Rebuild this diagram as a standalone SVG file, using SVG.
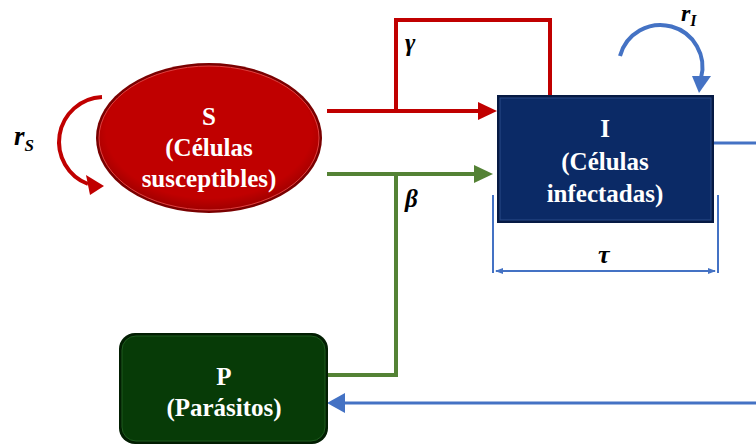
<svg xmlns="http://www.w3.org/2000/svg" width="756" height="444" viewBox="0 0 756 444">
<defs>
<style>
.t{font-family:"Liberation Serif","Times New Roman",serif;font-weight:bold;font-size:25px;fill:#fff;text-anchor:middle}
.m{font-family:"Liberation Serif","Times New Roman",serif;font-weight:bold;font-style:italic;fill:#000}
.red{stroke:#C00000;stroke-width:4;fill:none}
.grn{stroke:#548235;stroke-width:4;fill:none}
.blu{stroke:#4472C4;stroke-width:3;fill:none}
</style>
<marker id="abs" markerWidth="8" markerHeight="8" refX="7" refY="4" orient="auto-start-reverse" markerUnits="userSpaceOnUse" viewBox="0 0 8 8"><path d="M0,1 L8,4 L0,7 z" fill="#4472C4"/></marker>
<radialGradient id="gS" cx="0.5" cy="0.45" r="0.55"><stop offset="0.85" stop-color="#C00000"/><stop offset="1" stop-color="#A00000"/></radialGradient>
</defs>

<g id="connectors">
<path class="red" d="M327,111 H484"/>
<path d="M478,102 L497,111 L478,120 z" fill="#C00000"/>
<path class="red" d="M396,111 V20 H550 V97"/>
<path class="grn" d="M327,174 H480"/>
<path d="M474,165 L493,174 L474,183 z" fill="#548235"/>
<path class="grn" d="M396,174 V375 H327"/>
<path class="blu" d="M713,143 H756"/>
<path class="blu" d="M756,403 H345"/>
<path d="M345,393 L327,403 L345,413 z" fill="#4472C4"/>
<path class="blu" style="stroke-width:2" d="M493,195 V273 M718,195 V273"/>
<path class="blu" style="stroke-width:2" d="M496,271 H715" marker-start="url(#abs)" marker-end="url(#abs)"/>
<path d="M102,97 A45,45 0 0 0 88,184" stroke="#C00000" stroke-width="4" fill="none"/>
<path d="M86,175 L104,186 L90,195 z" fill="#C00000"/>
<path d="M620,56 A40,40 0 0 1 701,78" stroke="#4472C4" stroke-width="4" fill="none"/>
<path d="M692,76 L711,76 L699,93 z" fill="#4472C4"/>
</g>

<g id="S">
<ellipse cx="209" cy="138" rx="113" ry="75" fill="#7A0000"/>
<ellipse cx="209" cy="138" rx="110" ry="72" fill="url(#gS)" stroke="#E04040" stroke-width="1"/>
<text class="t" x="209" y="125">S</text>
<text class="t" x="209" y="156">(Células</text>
<text class="t" x="209" y="187">susceptibles)</text>
</g>

<g id="I">
<rect x="497" y="95" width="217" height="128" fill="#061A44"/>
<rect x="500" y="98" width="211" height="122" fill="#0B2A66" stroke="#2A4A88" stroke-width="1"/>
<text class="t" x="605" y="137">I</text>
<text class="t" x="605" y="170">(Células</text>
<text class="t" x="605" y="202">infectadas)</text>
</g>

<g id="P">
<rect x="119" y="333" width="209" height="111" rx="16" fill="#021E02"/>
<rect x="122" y="336" width="203" height="105" rx="14" fill="#073B07" stroke="#1F5A1F" stroke-width="1"/>
<text class="t" x="224" y="385">P</text>
<text class="t" x="224" y="416">(Parásitos)</text>
</g>

<g id="labels">
<text class="m" x="14" y="145" font-size="27">r<tspan font-size="17" dy="6">S</tspan></text>
<text class="m" x="681" y="21" font-size="24">r<tspan font-size="16" dy="5">I</tspan></text>
<text class="m" x="405" y="51" font-size="25">γ</text>
<text class="m" x="405" y="207" font-size="25">β</text>
<text class="m" x="598" y="263" font-size="26">τ</text>
</g>
</svg>
